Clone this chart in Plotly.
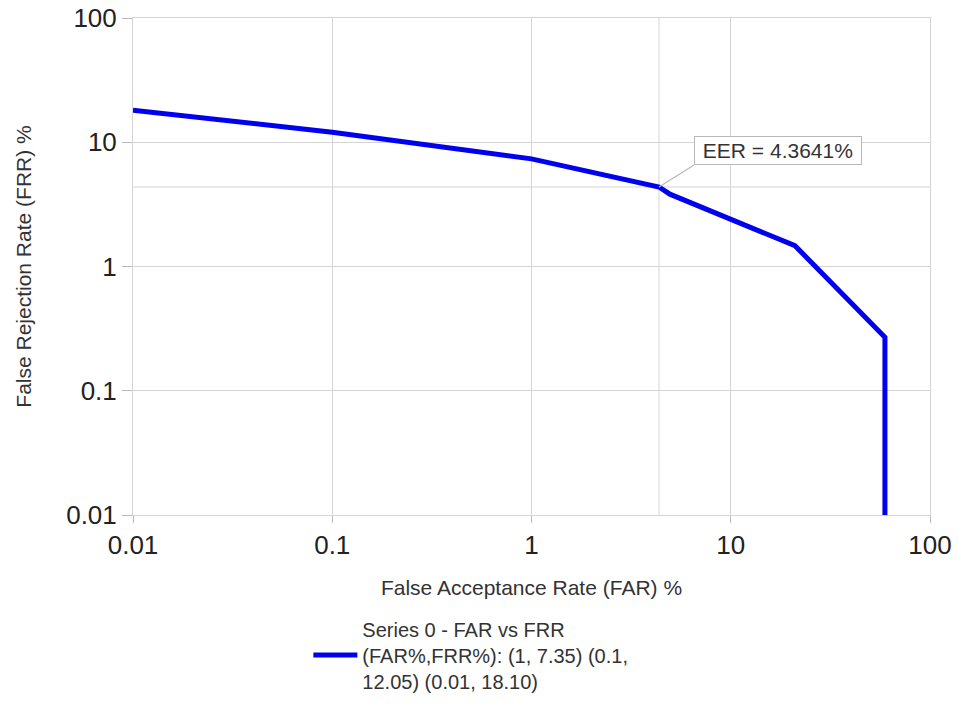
import math
import plotly.graph_objects as go

# DET curve: false acceptance vs false rejection (percent)
far_pct = [0.01, 0.1, 1.0, 4.3641, 4.95, 21.0, 59.4, 59.4]
frr_pct = [18.10, 12.05, 7.35, 4.3641, 3.82, 1.47, 0.27, 0.01]
eer_value = 4.3641

series_name = ("Series 0 - FAR vs FRR<br>(FAR%,FRR%): (1, 7.35) (0.1,<br>"
               "12.05) (0.01, 18.10)")
x_ticks = [0.01, 0.1, 1, 10, 100]
x_tick_text = ["0.01", "0.1", "1", "10", "100"]
y_ticks = [0.01, 0.1, 1, 10, 100]
y_tick_text = ["0.01", "0.1", "1", "10", "100"]

FONT = "Liberation Sans, Arial, sans-serif"
GRID = "#d4d4d4"

fig = go.Figure()
fig.add_trace(go.Scatter(
    x=far_pct, y=frr_pct, mode="lines", name=series_name,
    line=dict(color="#0000ee", width=5),
    hoverinfo="x+y",
))

# extra grid lines through the equal error rate
fig.add_shape(type="line", xref="x", yref="paper", x0=eer_value, x1=eer_value,
              y0=0, y1=1, line=dict(color=GRID, width=1), layer="below")
fig.add_shape(type="line", xref="paper", yref="y", x0=0, x1=1,
              y0=eer_value, y1=eer_value, line=dict(color=GRID, width=1), layer="below")

fig.add_annotation(
    x=math.log10(eer_value), y=math.log10(eer_value), xref="x", yref="y",
    text=f"\u00a0EER = {eer_value:.4f}%\u00a0", showarrow=True, arrowhead=0,
    arrowwidth=1.2, arrowcolor="#b8b8b8", ax=35, ay=-22,
    xanchor="left", yanchor="bottom",
    font=dict(family=FONT, size=21, color="#333333"),
    bordercolor="#b8b8b8", borderwidth=1, borderpad=2, bgcolor="white",
)

axis_common = dict(
    type="log", showgrid=True, gridcolor=GRID, gridwidth=1,
    showline=True, linecolor=GRID, mirror=True, zeroline=False,
    ticks="outside", tickcolor="#bbbbbb", automargin=False,
    tickfont=dict(family=FONT, size=26, color="#222222"),
)

fig.update_xaxes(
    **axis_common, range=[-2, 2], tickvals=x_ticks, ticktext=x_tick_text,
    ticklen=7,
    title=dict(text="False Acceptance Rate (FAR) %", standoff=21,
               font=dict(family=FONT, size=21, color="#333333")),
)
fig.update_yaxes(
    **axis_common, range=[-2, 2], tickvals=y_ticks, ticktext=y_tick_text,
    ticklen=10,
    title=dict(text="False Rejection Rate (FRR) %", standoff=28,
               font=dict(family=FONT, size=21, color="#333333")),
)

fig.update_layout(
    width=959, height=715,
    margin=dict(l=133, r=29, t=18, b=200),
    paper_bgcolor="white", plot_bgcolor="white",
    font=dict(family=FONT, color="#333333"),
    showlegend=True,
    legend=dict(
        x=0.22, y=-0.19, xanchor="left", yanchor="top",
        font=dict(family=FONT, size=20, color="#333333"),
        bgcolor="rgba(0,0,0,0)", valign="middle", itemwidth=44,
    ),
)

fig.write_html("out.html")
